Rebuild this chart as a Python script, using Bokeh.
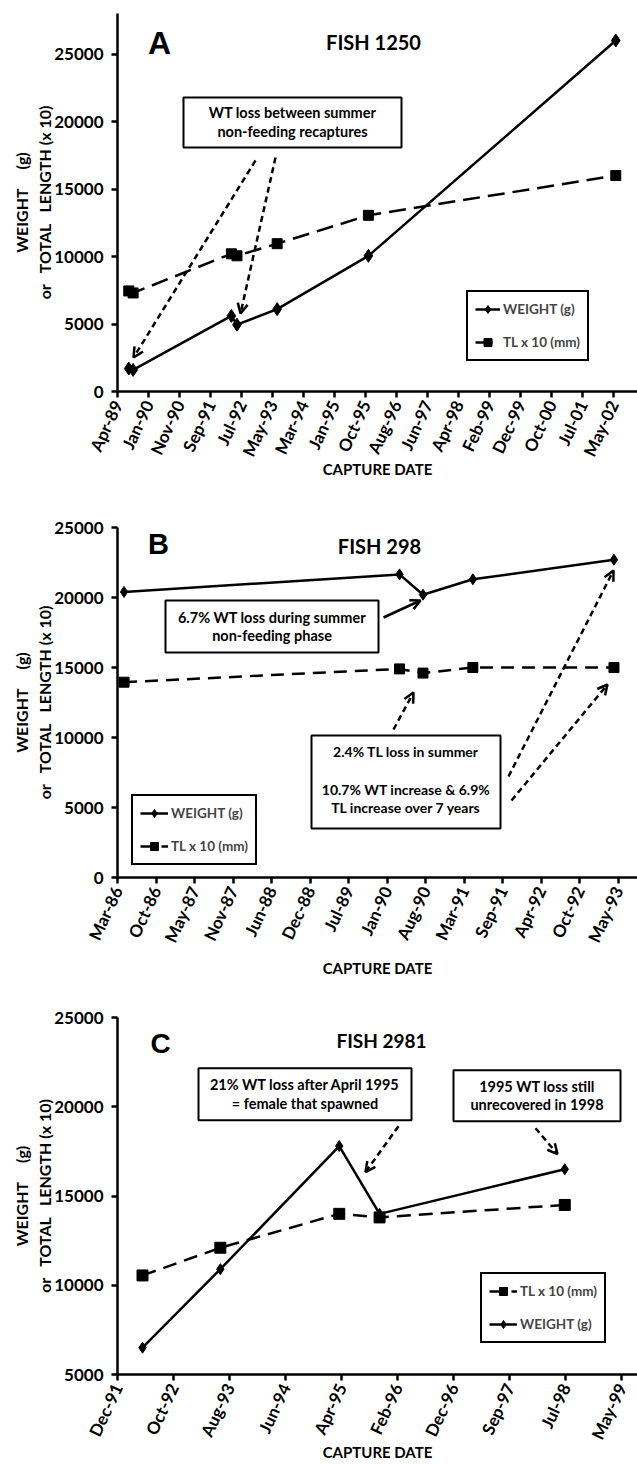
import numpy as np
import pandas as pd
from bokeh.plotting import figure
from bokeh.layouts import column
from bokeh.models import (FixedTicker, DatetimeTickFormatter, Label, BoxAnnotation,
                          Arrow, OpenHead, Legend, LegendItem, Range1d)
from bokeh.embed import file_html
from bokeh.resources import INLINE

# ---------------- data ----------------
# Panel A - FISH 1250
A_dates = ["1989-07-20", "1989-08-31", "1992-04-08", "1992-06-01", "1993-06-25", "1995-11-25", "2002-06-15"]
A_weight = [1700, 1600, 5600, 4950, 6100, 10050, 26000]
A_tl = [7450, 7300, 10200, 10050, 10950, 13050, 16000]

# Panel B - FISH 298
B_dates = ["1986-05-02", "1990-04-02", "1990-08-02", "1991-04-18", "1993-04-20"]
B_weight = [20400, 21650, 20200, 21300, 22700]
B_tl = [13950, 14900, 14600, 15000, 15000]

# Panel C - FISH 2981
C_dates = ["1992-05-10", "1993-07-01", "1995-03-30", "1995-11-01", "1998-07-20"]
C_weight = [6500, 10900, 17800, 14000, 16500]
C_tl = [10550, 12100, 14000, 13800, 14500]

# axis tick settings (Excel date axes: first tick date, step in days, number of ticks)
A_tick_start, A_tick_step, A_tick_n = "1989-04-02", 300, 17
B_tick_start, B_tick_step, B_tick_n = "1986-03-29", 200, 14
C_tick_start, C_tick_step, C_tick_n = "1991-12-28", 300, 10

A_yticks = [0, 5000, 10000, 15000, 20000, 25000]
B_yticks = [0, 5000, 10000, 15000, 20000, 25000]
C_yticks = [5000, 10000, 15000, 20000, 25000]

FONT = "Lato"
LETTER_FONT = "Liberation Sans"
W = 637
FL = 117  # frame left (px)
NB = "\u00a0"


def ms(ts):
    return pd.Timestamp(ts).value / 1e6


class Panel:
    def __init__(self, top_page, height, frame_top, frame_bottom, tick_start, step, n, tick_px,
                 y0, y1, yticks, label_standoff):
        self.top_page = top_page
        self.frame_top = frame_top
        self.frame_bottom = frame_bottom
        self.x_start = ms(tick_start)
        self.ppd = tick_px / step  # pixels per day
        x_end = self.x_start + (W - FL) / self.ppd * 86400000.0
        self.y0, self.y1 = y0, y1
        p = figure(width=W, height=height, x_axis_type="datetime", output_backend="svg",
                   toolbar_location=None, x_range=Range1d(self.x_start, x_end),
                   y_range=Range1d(y0, y1), min_border_left=FL, min_border_right=0,
                   min_border_top=frame_top - top_page,
                   min_border_bottom=top_page + height - frame_bottom)
        p.outline_line_color = None
        p.grid.visible = False
        p.background_fill_color = "white"
        p.border_fill_color = "white"
        ticks = [ms(pd.Timestamp(tick_start) + pd.Timedelta(days=step * k)) for k in range(n)]
        p.xaxis.ticker = FixedTicker(ticks=ticks)
        fmt = "%b-%y"
        p.xaxis.formatter = DatetimeTickFormatter(milliseconds=fmt, seconds=fmt, minsec=fmt, minutes=fmt,
                                                  hourmin=fmt, hours=fmt, days=fmt, months=fmt, years=fmt)
        p.yaxis.ticker = FixedTicker(ticks=yticks)
        for ax in (p.xaxis[0], p.yaxis[0]):
            ax.axis_line_width = 2.5
            ax.axis_line_color = "black"
            ax.major_tick_line_width = 2.5
            ax.major_tick_line_color = "black"
            ax.major_tick_out = 6
            ax.major_tick_in = 0
            ax.minor_tick_out = 0
            ax.minor_tick_in = 0
            ax.major_label_text_font = FONT
            ax.major_label_text_font_style = "bold"
            ax.major_label_text_color = "black"
            ax.major_label_text_font_size = "17px"
            ax.axis_label_text_font = FONT
            ax.axis_label_text_font_style = "bold"
            ax.axis_label_text_color = "black"
            ax.axis_label_text_font_size = "15px"
        p.xaxis.major_label_orientation = np.deg2rad(65)
        p.xaxis.axis_label = "CAPTURE DATE"
        p.xaxis.axis_label_standoff = label_standoff
        p.xaxis.axis_label_text_line_height = 1.0
        p.xaxis.major_label_standoff = 4
        p.yaxis.axis_label = ("WEIGHT" + NB * 5 + "(g)\nor" + NB * 3 + "TOTAL" + NB * 3 +
                              "LENGTH" + NB + "(x 10)")
        p.yaxis.axis_label_text_font_size = "16px"
        p.yaxis.axis_label_standoff = -3
        p.yaxis.major_label_standoff = 8
        self.p = p

    def X(self, px):
        return self.x_start + (px - FL) / self.ppd * 86400000.0

    def Y(self, py):
        return self.y1 - (py - self.frame_top) / (self.frame_bottom - self.frame_top) * (self.y1 - self.y0)

    def text(self, px, py, txt, size, font=FONT):
        self.p.add_layout(Label(x=self.X(px), y=self.Y(py), text=txt, text_align="center",
                                text_baseline="middle", text_font=font, text_font_style="bold",
                                text_font_size=size, text_color="black"))

    def box(self, l, t, r, b, lines, size, line_ys):
        self.p.add_layout(BoxAnnotation(left=self.X(l), right=self.X(r), top=self.Y(t), bottom=self.Y(b),
                                        fill_color="white", fill_alpha=1.0, line_color="black",
                                        line_alpha=1.0, line_width=2))
        cx = (l + r) / 2
        for txt, yy in zip(lines, line_ys):
            if txt:
                self.text(cx, yy, txt, size)

    def arrow(self, x0, y0, x1, y1, dash="6 4"):
        self.p.add_layout(Arrow(end=OpenHead(size=10, line_width=2.5, line_color="black"),
                                x_start=self.X(x0), y_start=self.Y(y0), x_end=self.X(x1), y_end=self.Y(y1),
                                line_dash=dash, line_width=2.5, line_color="black"))


def series(pan, dates, weight, tl, tl_dash, wsize, ssize):
    p = pan.p
    x = pd.to_datetime(dates)
    lw = p.line(x, weight, line_color="black", line_width=2.5)
    sw = p.scatter(x, weight, marker="diamond", size=wsize, color="black")
    lt = p.line(x, tl, line_color="black", line_width=2.5, line_dash=tl_dash)
    st = p.scatter(x, tl, marker="square", size=ssize, color="black")
    return [lw, sw], [lt, st]


def legend(pan, items, loc, gw=28):
    lg = Legend(items=[LegendItem(label=l, renderers=r) for l, r in items], location=loc,
                border_line_color="black", border_line_width=2, border_line_alpha=1.0,
                background_fill_alpha=1.0,
                label_text_font=FONT, label_text_font_style="bold", label_text_font_size="13.5px",
                glyph_width=gw, glyph_height=20, label_height=20, spacing=13, padding=7,
                margin=0, label_standoff=3)
    pan.p.add_layout(lg)


# ---------------- Panel A ----------------
pa = Panel(0, 512, 13, 391, A_tick_start, A_tick_step, A_tick_n, 31.0, 0, 28000, A_yticks, -7)
wA, tA = series(pa, A_dates, A_weight, A_tl, "17 8", 13, 10)
pa.text(159, 42, "A", "32px", LETTER_FONT)
pa.text(373, 41, "FISH 1250", "20px")
pa.box(183, 97, 401, 147, ["WT loss between summer", "non-feeding recaptures"], "14.5px", [112, 131])
pa.arrow(255, 160, 133, 357)
pa.arrow(275, 157, 240, 313)
legend(pa, [("WEIGHT (g)", wA), ("TL x 10 (mm)", tA)], (349, 30), gw=25)

# ---------------- Panel B ----------------
pb = Panel(512, 473, 527, 877, B_tick_start, B_tick_step, B_tick_n, 38.5, 0, 25000, B_yticks, 6)
wB, tB = series(pb, B_dates, B_weight, B_tl, "13 8", 11, 10)
pb.text(158, 543, "B", "29px", LETTER_FONT)
pb.text(379, 545, "FISH 298", "20px")
pb.box(165, 600, 378, 652, ["6.7% WT loss during summer", "non-feeding phase"], "14.5px", [617, 635])
pb.arrow(383, 617, 420, 600, dash="solid")
pb.box(311, 735, 500, 828, ["2.4% TL loss in summer", "", "10.7% WT increase & 6.9%",
                            "TL increase over 7 years"], "14px", [751, 770, 789, 807])
pb.arrow(393, 729, 413, 692)
pb.arrow(508, 776, 613, 570)
pb.arrow(511, 800, 607, 684)
legend(pb, [("WEIGHT (g)", wB), ("TL x 10 (mm)", tB)], (14, 12))

# ---------------- Panel C ----------------
pc = Panel(985, 479, 1017, 1375, C_tick_start, C_tick_step, C_tick_n, 56.0, 5000, 25000, C_yticks, -7)
wC, tC = series(pc, C_dates, C_weight, C_tl, "14 8", 11, 11)
pc.text(160, 1043, "C", "28px", LETTER_FONT)
pc.text(381, 1040, "FISH 2981", "19px")
pc.box(198, 1068, 411, 1120, ["21% WT loss after April 1995", "= female that spawned"], "14.5px", [1084, 1103])
pc.box(453, 1070, 620, 1121, ["1995 WT loss still", "unrecovered in 1998"], "14.5px", [1086, 1104])
pc.arrow(398, 1126, 365, 1172)
pc.arrow(535, 1128, 557, 1154)
legend(pc, [("TL x 10 (mm)", tC), ("WEIGHT (g)", wC)], (363, 31))

layout = column(pa.p, pb.p, pc.p, spacing=0)
open("out.html", "w").write(file_html(layout, INLINE))
